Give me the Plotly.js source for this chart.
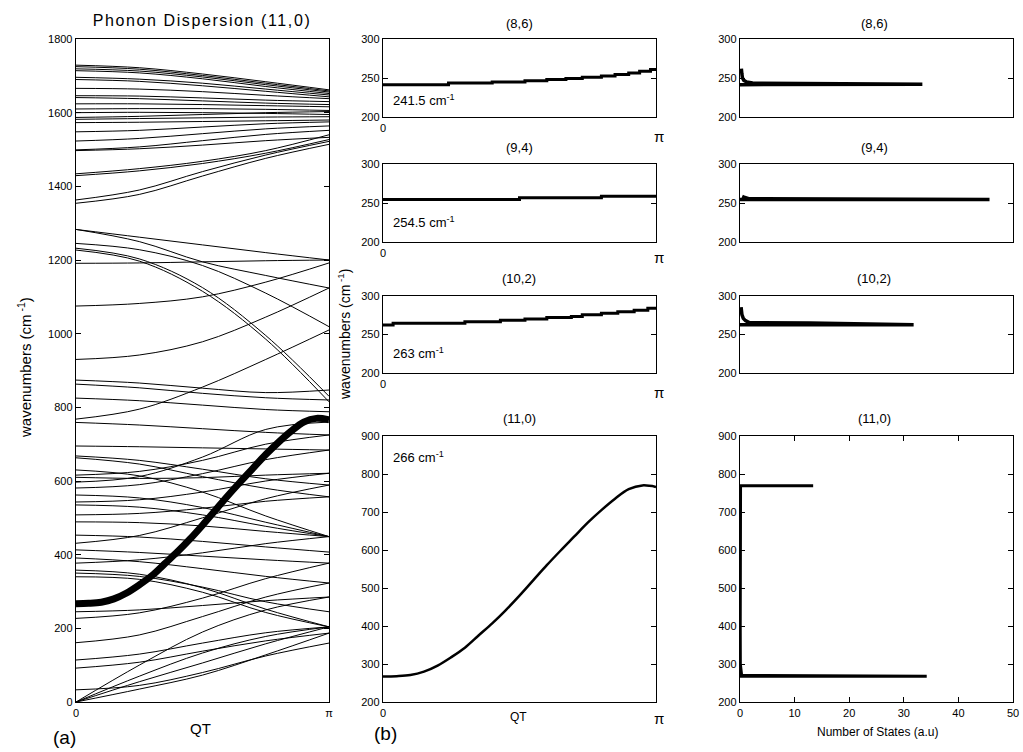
<!DOCTYPE html>
<html>
<head>
<meta charset="utf-8">
<script src="https://cdn.plot.ly/plotly-3.0.1.min.js"></script>
<style>html,body{margin:0;padding:0;background:#fff;}#chart{width:1023px;height:752px;}</style>
</head>
<body>
<div id="chart"></div>
<script>
// ---------- DATA ----------
// Left panel: phonon branches of (11,0), values (cm^-1) read at QT = 0, π/4, π/2, 3π/4, π
const qGrid = [0, 0.25, 0.5, 0.75, 1];
const highBranches = [
  [1729, 1722, 1705, 1684, 1662],
  [1725, 1718, 1701, 1680, 1659],
  [1719, 1713, 1697, 1676, 1656],
  [1714, 1708, 1692, 1671, 1652],
  [1696, 1691, 1680, 1664, 1648],
  [1690, 1685, 1673, 1658, 1643],
  [1666, 1664, 1657, 1647, 1638],
  [1646, 1645, 1640, 1634, 1630],
  [1641, 1638, 1632, 1626, 1622],
  [1624, 1624, 1622, 1619, 1616],
  [1610, 1611, 1611, 1609, 1606],
  [1600, 1601, 1600, 1598, 1595],
  [1587, 1590, 1595, 1600, 1603],
  [1582, 1584, 1586, 1588, 1589],
  [1573, 1574, 1576, 1578, 1580],
  [1548, 1552, 1561, 1570, 1575],
  [1523, 1530, 1543, 1556, 1564],
  [1499, 1507, 1524, 1541, 1552],
  [1497, 1502, 1512, 1524, 1533],
  [1434, 1448, 1468, 1497, 1540],
  [1429, 1442, 1462, 1490, 1527],
  [1363, 1390, 1440, 1485, 1522],
  [1354, 1378, 1428, 1476, 1514]
];
const midBranches = [
  [1283, 1262, 1241, 1220, 1200],
  [1283, 1250, 1195, 1158, 1124],
  [1245, 1228, 1185, 1110, 1019],
  [1232, 1203, 1125, 995, 830],
  [1227, 1197, 1115, 985, 815],
  [1191, 1192, 1195, 1198, 1200],
  [1075, 1082, 1100, 1140, 1192],
  [930, 942, 978, 1045, 1124]
];
const lowBranches = [
  [874, 866, 852, 840, 847],
  [863, 853, 838, 826, 820],
  [825, 818, 806, 794, 788],
  [768, 795, 855, 930, 1010],
  [759, 752, 742, 732, 725],
  [695, 693, 690, 687, 684],
  [668, 656, 632, 606, 589],
  [663, 646, 612, 580, 557],
  [630, 614, 570, 505, 449],
  [616, 626, 656, 700, 725],
  [610, 607, 609, 616, 621],
  [597, 612, 665, 740, 760],
  [581, 590, 620, 658, 684],
  [562, 554, 528, 488, 449],
  [543, 549, 570, 600, 621],
  [535, 529, 508, 477, 449],
  [508, 512, 526, 545, 557],
  [489, 487, 478, 463, 449],
  [453, 448, 436, 421, 407],
  [431, 452, 500, 552, 589],
  [413, 406, 396, 386, 377],
  [391, 381, 362, 341, 323],
  [377, 386, 405, 430, 449],
  [358, 347, 310, 252, 204],
  [350, 341, 312, 272, 245],
  [340, 333, 298, 243, 204],
  [245, 250, 262, 275, 285],
  [227, 242, 282, 335, 377],
  [161, 182, 232, 285, 323],
  [114, 130, 160, 188, 204],
  [92, 108, 138, 166, 187],
  [33, 45, 80, 125, 160],
  [0, 100, 190, 250, 285],
  [0, 70, 133, 178, 204],
  [0, 55, 106, 158, 204],
  [0, 35, 73, 128, 187]
];
// Highlighted (11,0) branch starting at 266 cm^-1
const sQ = [0, 0.05, 0.1, 0.15, 0.2, 0.25, 0.3, 0.35, 0.4, 0.45, 0.5, 0.55, 0.6, 0.65, 0.7, 0.75, 0.8, 0.85, 0.9, 0.95, 1];
const sFreq = [267, 268, 271, 280, 296, 318, 343, 375, 407, 442, 480, 520, 560, 598, 635, 672, 705, 735, 760, 770, 766];

// Middle panels: branch vs QT (fraction of π)
const q86 = [0, 0.24, 0.4, 0.52, 0.6, 0.67, 0.73, 0.8, 0.85, 0.9, 0.94, 0.98, 1];
const f86 = [241.5, 243.5, 245, 246.5, 248, 249.5, 251, 252.5, 254.5, 256.5, 258.5, 261, 262];
const q94 = [0, 0.5, 0.8, 1];
const f94 = [254.5, 256.8, 258.5, 258.5];
const q102 = [0, 0.037, 0.3, 0.43, 0.52, 0.6, 0.69, 0.73, 0.8, 0.86, 0.92, 0.97, 1];
const f102 = [262.5, 264.5, 266.5, 268.5, 270, 272, 273.5, 275.5, 277.5, 279.5, 281.5, 284, 285];

// Right panels: number of states vs wavenumber
const dos86Freq = [241.5, 242, 243.5, 245, 247, 250, 255, 262];
const dos86Count = [0, 33.4, 2.3, 1.2, 0.7, 0.45, 0.35, 0.25];
const dos94Freq = [254.5, 254.5, 255.5, 257, 258.5];
const dos94Count = [0, 45.7, 1.6, 0.9, 0.4];
const dos102Freq = [262.8, 262.8, 264.8, 265.4, 268, 271, 276, 285.5];
const dos102Count = [0, 31.8, 12.8, 1.7, 1.0, 0.6, 0.35, 0.2];
const dos110Freq = [268, 268, 270, 300, 400, 500, 600, 700, 764, 769, 769];
const dos110Count = [0, 34.2, 0.3, 0.06, 0.04, 0.03, 0.03, 0.04, 0.08, 0.1, 13.4];

const panelTitles = ['(8,6)', '(9,4)', '(10,2)', '(11,0)'];
const peakLabels = ['241.5 cm<sup>-1</sup>', '254.5 cm<sup>-1</sup>', '263 cm<sup>-1</sup>', '266 cm<sup>-1</sup>'];

// ---------- BUILD ----------
const PI = Math.PI;
const W = 1023, H = 752;
const FONT = 'Liberation Sans, Arial, sans-serif';
const px = v => v / W;
const py = v => 1 - v / H;

const traces = [];
function addLine(x, y, xa, ya, width, shape) {
  traces.push({x: x, y: y, xaxis: xa, yaxis: ya, type: 'scatter', mode: 'lines',
    line: {color: '#000', width: width, shape: shape || 'linear', smoothing: 1},
    hoverinfo: 'skip', showlegend: false});
}
[highBranches, midBranches, lowBranches].forEach(band => band.forEach(vals =>
  addLine(qGrid.map(q => q * PI), vals, 'x', 'y', 1, 'spline')));
addLine(sQ.map(q => q * PI), sFreq, 'x', 'y', 7, 'spline');

addLine(q86.map(q => q * PI), f86, 'x2', 'y2', 3, 'hv');
addLine(q94.map(q => q * PI), f94, 'x3', 'y3', 3, 'hv');
addLine(q102.map(q => q * PI), f102, 'x4', 'y4', 3, 'hv');
addLine(sQ.map(q => q * PI), sFreq, 'x5', 'y5', 2.5, 'spline');

addLine(dos86Count, dos86Freq, 'x6', 'y6', 3.5);
addLine(dos94Count, dos94Freq, 'x7', 'y7', 3.5);
addLine(dos102Count, dos102Freq, 'x8', 'y8', 3.5);
addLine(dos110Count, dos110Freq, 'x9', 'y9', 3);

// panel boxes in pixels
const colL = [76, 329], colM = [383, 656], colR = [740, 1013];
const rows = [[39, 117], [164, 242], [296, 373], [436, 702]];

const baseAxis = {showline: true, linecolor: '#000', linewidth: 1.3, mirror: 'ticks',
  showgrid: false, zeroline: false, tickfont: {family: FONT, size: 11, color: '#000'},
  ticks: 'inside', ticklen: 5, tickcolor: '#000', tickwidth: 1, fixedrange: true};
function ax(extra) { return Object.assign({}, baseAxis, extra); }

const layout = {
  width: W, height: H, margin: {l: 0, r: 0, t: 0, b: 0},
  paper_bgcolor: '#fff', plot_bgcolor: '#fff', showlegend: false,
  font: {family: FONT, color: '#000'},
  title: {text: 'Phonon Dispersion (11,0)', x: px(202), xanchor: 'center', y: py(20), yanchor: 'middle',
    font: {family: FONT, size: 16, color: '#000'}},
  xaxis: ax({domain: [px(colL[0]), px(colL[1])], range: [0, PI], tickvals: [0, PI], ticktext: ['0', 'π'], ticks: '', anchor: 'y'}),
  yaxis: ax({domain: [py(702), py(39)], range: [0, 1800], dtick: 200, tick0: 0, anchor: 'x'}),
  annotations: []
};
const yRanges = [[200, 300, 50], [200, 300, 50], [200, 300, 50], [200, 900, 100]];
for (let i = 0; i < 4; i++) {
  const mi = i + 2, ri = i + 6;
  const dom = [py(rows[i][1]), py(rows[i][0])];
  layout['xaxis' + mi] = ax({domain: [px(colM[0]), px(colM[1])], range: [0, PI], tickvals: [0], ticktext: ['0'], ticks: '', anchor: 'y' + mi});
  layout['yaxis' + mi] = ax({domain: dom, range: [yRanges[i][0], yRanges[i][1]], dtick: yRanges[i][2], tick0: 0, anchor: 'x' + mi});
  const xr = (i === 3) ? {tickvals: [0, 10, 20, 30, 40, 50]} : {showticklabels: false, ticks: ''};
  layout['xaxis' + ri] = ax(Object.assign({domain: [px(colR[0]), px(colR[1])], range: [0, 50], anchor: 'y' + ri}, xr));
  layout['yaxis' + ri] = ax({domain: dom, range: [yRanges[i][0], yRanges[i][1]], dtick: yRanges[i][2], tick0: 0, anchor: 'x' + ri});
}

function ann(text, x, y, size, extra) {
  layout.annotations.push(Object.assign({text: text, x: x, y: y, xref: 'paper', yref: 'paper',
    showarrow: false, xanchor: 'center', yanchor: 'middle', font: {family: FONT, size: size, color: '#000'}}, extra || {}));
}
const titleY = [23, 147, 278, 418];
const labelY = [100, 222, 353, 457];
const piY = [136, 257, 392, 718];
for (let i = 0; i < 4; i++) {
  ann(panelTitles[i], px(519), py(titleY[i]), 13);
  ann(panelTitles[i], px(874), py(titleY[i]), 13);
  ann(peakLabels[i], px(391), py(labelY[i]), 13, {xanchor: 'left'});
  ann('π', px(659), py(piY[i]), 15);
}
ann('wavenumbers (cm<sup> -1</sup>)', px(25), py(368), 15, {textangle: -90});
ann('wavenumbers (cm<sup> -1</sup>)', px(344), py(335), 14, {textangle: -90});
ann('QT', px(200), py(728), 15);
ann('QT', px(518), py(717), 12);
ann('Number of States (a.u)', px(877), py(732), 12);
ann('(a)', px(64), py(737), 19);
ann('(b)', px(385), py(733), 19);

Plotly.newPlot('chart', traces, layout, {displayModeBar: false, staticPlot: true}).then(() => {
  const t = document.querySelector('.gtitle');
  if (t) t.style.letterSpacing = '1.6px';
});
</script>
</body>
</html>
